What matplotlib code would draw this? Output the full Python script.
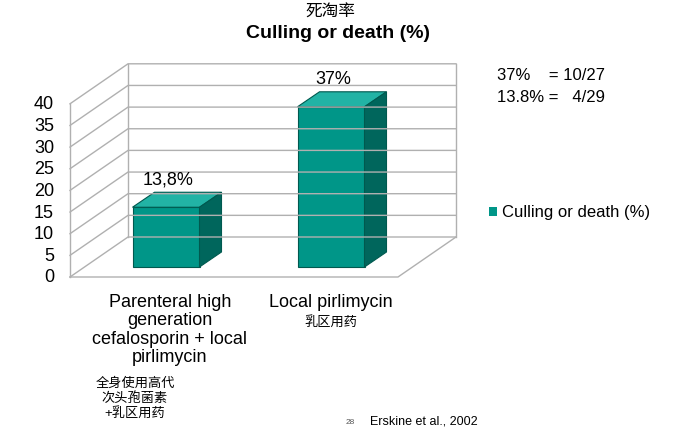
import matplotlib.pyplot as plt
from matplotlib.patches import Polygon

plt.rcParams['font.family'] = ['Liberation Sans', 'Noto Sans CJK SC', 'DejaVu Sans']

categories = ["Parenteral high\ngeneration\ncefalosporin + local\npirlimycin", "Local pirlimycin"]
cn_labels = ["全身使用高代\n次头孢菌素\n+乳区用药", "乳区用药"]
values = [13.8, 37]
value_labels = ["13,8%", "37%"]
yticks = [0, 5, 10, 15, 20, 25, 30, 35, 40]

W, H = 673, 435
fig = plt.figure(figsize=(W / 100, H / 100), dpi=100)
ax = fig.add_axes([0, 0, 1, 1])
ax.set_xlim(0, W)
ax.set_ylim(H, 0)
ax.axis('off')

# pseudo-3D geometry (pixels)
x0, x1 = 70, 398          # front floor edge
base = 278                # y of value 0 at front
scale = 4.33              # px per unit
ddx, ddy = 58, -40        # depth offset
front = '#009688'
top = '#22b3a5'
side = '#00665c'
gridc = '#b0b0b0'


def yv(v):
    return base - v * scale

# back wall grid and left wall
for t in yticks:
    y = yv(t)
    ax.plot([x0, x0 + ddx, x1 + ddx], [y, y + ddy, y + ddy], color=gridc, lw=1)
    ax.text(x0 - 16, y, str(t), ha='right', va='center', fontsize=13)
ax.plot([x0, x0], [yv(0), yv(40)], color=gridc, lw=1)
ax.plot([x0 + ddx, x0 + ddx], [yv(0) + ddy, yv(40) + ddy], color=gridc, lw=1)
ax.plot([x1 + ddx, x1 + ddx], [yv(0) + ddy, yv(40) + ddy], color=gridc, lw=1)
ax.plot([x0, x1, x1 + ddx], [yv(0), yv(0), yv(0) + ddy], color=gridc, lw=1)

# bars
centers = [166, 331]
bw = 67
bdx, bdy = 22, -15
for c, v, lab in zip(centers, values, value_labels):
    l, r = c - bw / 2, c + bw / 2
    b = yv(0) - 10
    t = b - v * scale
    ax.add_patch(Polygon([(l, b), (r, b), (r, t), (l, t)], closed=True, fc=front, ec='#00594f', lw=0.8))
    ax.add_patch(Polygon([(l, t), (r, t), (r + bdx, t + bdy), (l + bdx, t + bdy)], closed=True, fc=top, ec='#00594f', lw=0.8))
    ax.add_patch(Polygon([(r, b), (r + bdx, b + bdy), (r + bdx, t + bdy), (r, t)], closed=True, fc=side, ec='#00594f', lw=0.8))
    ax.text(c + 2, t - 28, lab, ha='center', va='center', fontsize=13)

# category labels
ax.text(centers[0] + 4, 294, categories[0], ha='center', va='top', fontsize=13, linespacing=1.1)
ax.text(135, 377, cn_labels[0], ha='center', va='top', fontsize=9.5, linespacing=1.25)
ax.text(centers[1], 294, categories[1], ha='center', va='top', fontsize=13)
ax.text(centers[1], 316, cn_labels[1], ha='center', va='top', fontsize=9.5)

# titles
ax.text(330, 12, "死淘率", ha='center', va='center', fontsize=12)
ax.text(338, 34, "Culling or death (%)", ha='center', va='center', fontsize=14, fontweight='bold')

# side notes
ax.text(497, 75, "37%    = 10/27", ha='left', va='center', fontsize=12)
ax.text(497, 97, "13.8% =   4/29", ha='left', va='center', fontsize=12)

# legend
ax.add_patch(Polygon([(489, 208), (497, 208), (497, 217), (489, 217)], closed=True, fc=front))
ax.text(502, 213, "Culling or death (%)", ha='left', va='center', fontsize=12)

# footer
ax.text(350, 423, "28", ha='center', va='center', fontsize=6, color='#555555')
ax.text(370, 422, "Erskine et al., 2002", ha='left', va='center', fontsize=9)

fig.savefig('out.png', dpi=100)
